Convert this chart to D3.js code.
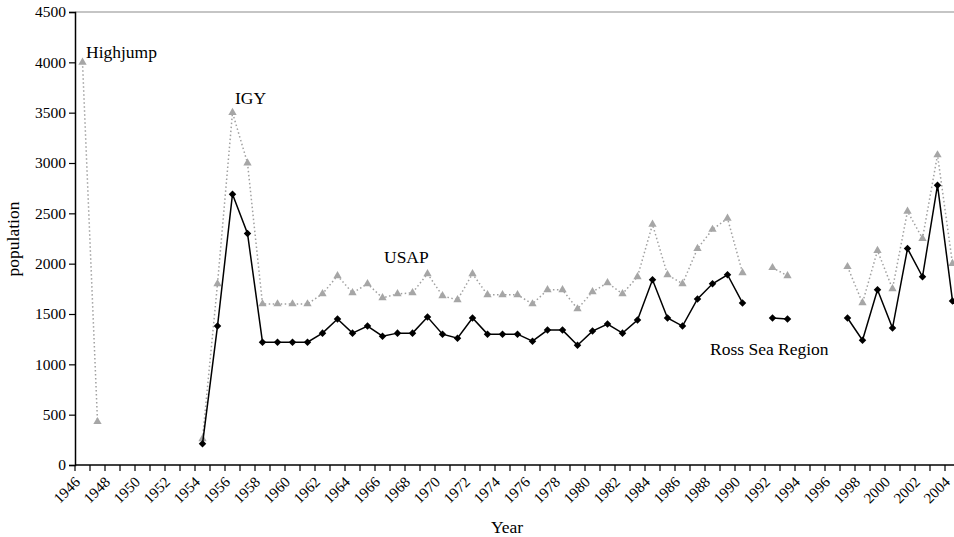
<!DOCTYPE html>
<html>
  <head>
    <title>Antarctic population</title>
  <script src="https://d3js.org/d3.v7.min.js"></script>
  <style>
    body { margin: 0; background: #fff; }
    svg { display: block; }
    text { font-family: "Liberation Serif", "Times New Roman", serif; fill: #000; }
  </style>
 </head>
  <body>

<script type="text/javascript">

// categories (years) and the two series, null = no data that year
var years = [1946,1947,1948,1949,1950,1951,1952,1953,1954,1955,1956,1957,1958,1959,1960,
             1961,1962,1963,1964,1965,1966,1967,1968,1969,1970,1971,1972,1973,1974,1975,
             1976,1977,1978,1979,1980,1981,1982,1983,1984,1985,1986,1987,1988,1989,1990,
             1991,1992,1993,1994,1995,1996,1997,1998,1999,2000,2001,2002,2003,2004];

var usap = [4000,430,null,null,null,null,null,null,260,1800,3500,3000,1600,1600,1600,
            1600,1700,1880,1710,1800,1660,1700,1710,1900,1680,1640,1900,1690,1690,1690,
            1600,1740,1740,1550,1720,1810,1700,1870,2390,1890,1800,2150,2340,2450,1910,
            null,1960,1880,null,null,null,1970,1610,2130,1750,2520,2250,3080,2000];

var rossSea = [null,null,null,null,null,null,null,null,210,1380,2690,2300,1220,1220,1220,
               1220,1310,1450,1310,1380,1280,1310,1310,1470,1300,1260,1460,1300,1300,1300,
               1230,1340,1340,1190,1330,1400,1310,1440,1840,1460,1380,1650,1800,1890,1610,
               null,1460,1450,null,null,null,1460,1240,1740,1360,2150,1870,2780,1630];

var yTicks = [0,500,1000,1500,2000,2500,3000,3500,4000,4500];

var annotations = ["Highjump", "IGY", "USAP", "Ross Sea Region"];

var width = 954, height = 537;
var margin = {top: 12, right: -6, bottom: 72, left: 75};
var innerW = width - margin.left - margin.right;   // axis runs a bit past the right edge
var innerH = height - margin.top - margin.bottom;

var svg = d3.select("body")
      .append("svg")
      .attr("width", width)
      .attr("height", height)

var x = d3.scaleBand()
    .domain(years)
    .range([0, innerW]);

var y = d3.scaleLinear()
    .domain([0, 4500])
    .range([innerH, 0]);

var g = svg.append("g")
    .attr("transform", "translate(" + margin.left + "," + margin.top + ")");

// grey top border line at 4500
g.append("line")
    .attr("x1", 0).attr("x2", innerW)
    .attr("y1", y(4500)).attr("y2", y(4500))
    .attr("stroke", "#8c8c8c")
    .attr("stroke-width", 1.2);

// y axis
var yAxis = g.append("g")
    .call(d3.axisLeft(y).tickValues(yTicks).tickSize(6).tickPadding(3).tickFormat(d3.format("d")));
yAxis.select(".domain").attr("stroke", "#000").attr("stroke-width", 1.5);
yAxis.selectAll(".tick line").attr("stroke", "#000").attr("stroke-width", 1.2);
yAxis.selectAll("text")
    .attr("font-family", "Liberation Serif")
    .attr("font-size", 15.5)
    .attr("fill", "#000");

// x axis: ticks on band edges, label every other year
var xAxis = g.append("g")
    .attr("transform", "translate(0," + innerH + ")");
xAxis.append("line")
    .attr("x1", 0).attr("x2", innerW)
    .attr("stroke", "#000").attr("stroke-width", 1.5);
xAxis.selectAll(".xtick")
    .data(years)
    .enter().append("line")
    .attr("class", "xtick")
    .attr("x1", function(d) { return x(d); })
    .attr("x2", function(d) { return x(d); })
    .attr("y1", 0).attr("y2", 6)
    .attr("stroke", "#000").attr("stroke-width", 1.2);
xAxis.selectAll(".xlabel")
    .data(years.filter(function(d, i) { return i % 2 === 0; }))
    .enter().append("text")
    .attr("class", "xlabel")
    .attr("transform", function(d) {
        return "translate(" + (x(d) + x.bandwidth() / 2 - 1.5) + ",18) rotate(-45)";
    })
    .attr("text-anchor", "end")
    .attr("font-size", 15)
    .text(function(d) { return d; });

// axis titles
svg.append("text")
    .attr("x", 507)
    .attr("y", 533)
    .attr("text-anchor", "middle")
    .attr("font-size", 17.5)
    .text("Year");

svg.append("text")
    .attr("transform", "translate(19,239) rotate(-90)")
    .attr("text-anchor", "middle")
    .attr("font-size", 17.5)
    .text("population");

var cx = function(i) { return x(years[i]) + x.bandwidth() / 2; };

var line = d3.line()
    .defined(function(d) { return d != null; })
    .x(function(d, i) { return cx(i); })
    .y(function(d) { return y(d); });

// USAP: grey dotted line with triangles
g.append("path")
    .datum(usap)
    .attr("d", line)
    .attr("fill", "none")
    .attr("stroke", "#a0a0a0")
    .attr("stroke-width", 1.5)
    .attr("stroke-dasharray", "1.5,2.5");

var tri = d3.symbol().type(d3.symbolTriangle).size(30);
g.selectAll(".tri")
    .data(usap.map(function(v, i) { return {v: v, i: i}; }).filter(function(d) { return d.v != null; }))
    .enter().append("path")
    .attr("class", "tri")
    .attr("d", tri)
    .attr("transform", function(d) { return "translate(" + cx(d.i) + "," + y(d.v) + ")"; })
    .attr("fill", "#a6a6a6");

// Ross Sea Region: black solid line with diamonds
g.append("path")
    .datum(rossSea)
    .attr("d", line)
    .attr("fill", "none")
    .attr("stroke", "#000")
    .attr("stroke-width", 1.5);

var dia = d3.symbol().type(d3.symbolDiamond2).size(36);
g.selectAll(".dia")
    .data(rossSea.map(function(v, i) { return {v: v, i: i}; }).filter(function(d) { return d.v != null; }))
    .enter().append("path")
    .attr("class", "dia")
    .attr("d", dia)
    .attr("transform", function(d) { return "translate(" + cx(d.i) + "," + y(d.v) + ")"; })
    .attr("fill", "#000");

// text labels
var annoPos = [[86, 57.5], [235, 104], [384, 262.5], [710, 354.5]];
svg.selectAll(".anno")
    .data(annotations)
    .enter().append("text")
    .attr("class", "anno")
    .attr("x", function(d, i) { return annoPos[i][0]; })
    .attr("y", function(d, i) { return annoPos[i][1]; })
    .attr("font-size", 17.5)
    .text(function(d) { return d; });

</script>

</body>
</html>
